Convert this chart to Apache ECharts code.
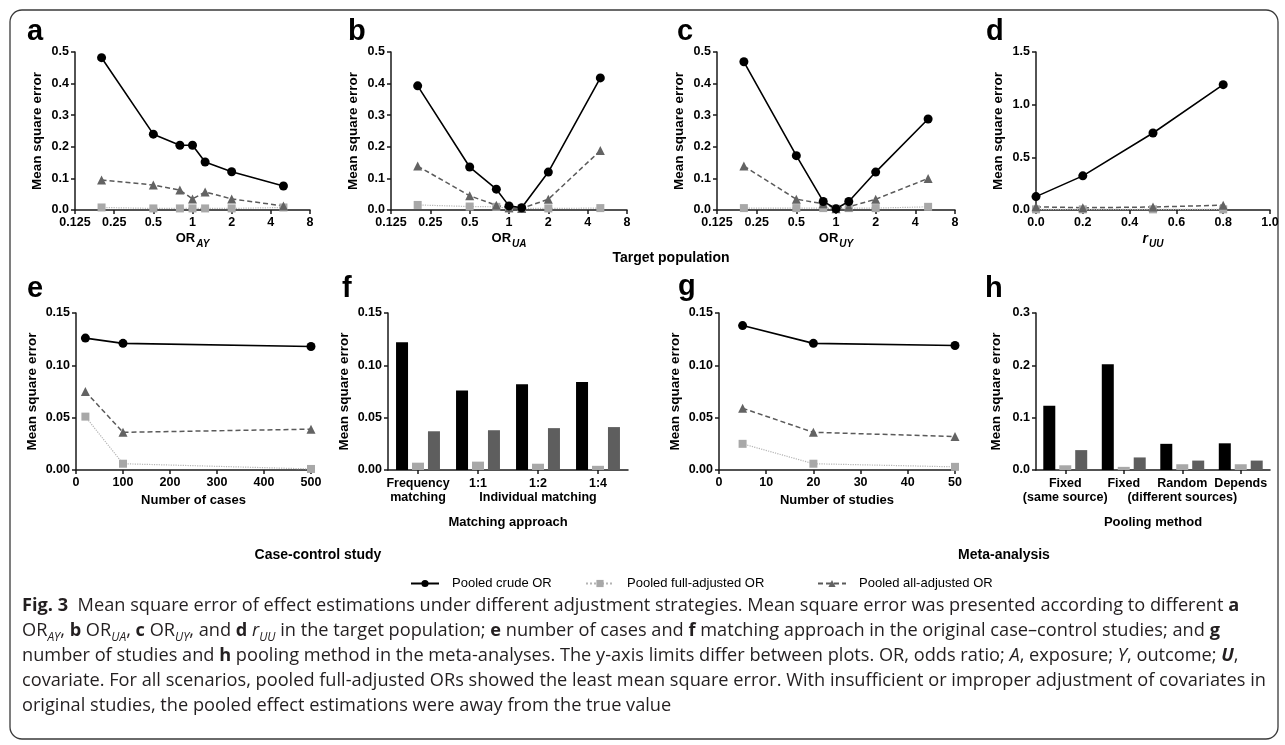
<!DOCTYPE html>
<html lang="en">
<head>
<meta charset="UTF-8">
<title>Mean square error of effect estimations</title>
<script src="https://cdn.jsdelivr.net/npm/echarts@6/dist/echarts.min.js"></script>
<style>
  body { margin: 0; background: #fff; }
  #wrap { position: relative; width: 1285px; height: 745px; }
  #box { width: 1285px; height: 745px; }
  #cap {
    position: absolute; left: 22px; top: 592px;
    font-family: "Open Sans", "Noto Sans", sans-serif; font-size: 18.2px;
    line-height: 25px; color: #231f20; white-space: nowrap;
  }
  #cap sub { font-size: 12px; line-height: 0; }
</style>
</head>
<body>
<div id="wrap">
<div id="box"></div>
<div id="cap">
<b>Fig. 3</b>&nbsp; Mean square error of effect estimations under different adjustment strategies. Mean square error was presented according to different <b>a</b><br>
OR<sub><i>AY</i></sub>, <b>b</b> OR<sub><i>UA</i></sub>, <b>c</b> OR<sub><i>UY</i></sub>, and <b>d</b> <i>r</i><sub><i>UU</i></sub> in the target population; <b>e</b> number of cases and <b>f</b> matching approach in the original case–control studies; and <b>g</b><br>
number of studies and <b>h</b> pooling method in the meta-analyses. The y-axis limits differ between plots. OR, odds ratio; <i>A</i>, exposure; <i>Y</i>, outcome; <b><i>U</i></b>,<br>
covariate. For all scenarios, pooled full-adjusted ORs showed the least mean square error. With insufficient or improper adjustment of covariates in<br>
original studies, the pooled effect estimations were away from the true value
</div>
</div>
<script>
// x values
var orVals = [0.2, 0.5, 0.8, 1, 1.25, 2, 5];
var rVals = [0, 0.2, 0.5, 0.8];
var caseVals = [20, 100, 500];
var studyVals = [5, 20, 50];
var fCats = ['Frequency\nmatching', '1:1', '1:2\nIndividual matching', '1:4'];
var hCats = ['Fixed\n(same source)', 'Fixed', 'Random\n(different sources)', 'Depends'];

// a: OR_AY
var aCrude = [0.482, 0.240, 0.205, 0.205, 0.152, 0.121, 0.076];
var aFull  = [0.008, 0.005, 0.005, 0.005, 0.005, 0.005, 0.008];
var aAll   = [0.095, 0.079, 0.063, 0.035, 0.057, 0.035, 0.013];
// b: OR_UA
var bCrude = [0.393, 0.136, 0.066, 0.013, 0.007, 0.120, 0.418];
var bFull  = [0.016, 0.011, 0.010, 0.005, 0.005, 0.005, 0.006];
var bAll   = [0.139, 0.045, 0.015, 0.007, 0.005, 0.034, 0.188];
// c: OR_UY
var cCrude = [0.469, 0.172, 0.027, 0.004, 0.027, 0.120, 0.288];
var cFull  = [0.006, 0.006, 0.006, 0.004, 0.006, 0.006, 0.010];
var cAll   = [0.139, 0.034, 0.020, 0.004, 0.010, 0.034, 0.100];
// d: r_UU
var dCrude = [0.127, 0.324, 0.731, 1.19];
var dFull  = [0.006, 0.006, 0.006, 0.006];
var dAll   = [0.030, 0.022, 0.028, 0.046];
// e: number of cases
var eCrude = [0.126, 0.121, 0.118];
var eFull  = [0.051, 0.006, 0.001];
var eAll   = [0.075, 0.036, 0.039];
// g: number of studies
var gCrude = [0.138, 0.121, 0.119];
var gFull  = [0.025, 0.006, 0.003];
var gAll   = [0.059, 0.036, 0.032];
// f: matching approach (bars)
var fCrude = [0.122, 0.076, 0.082, 0.084];
var fFull  = [0.007, 0.008, 0.006, 0.004];
var fAll   = [0.037, 0.038, 0.040, 0.041];
// h: pooling method (bars)
var hCrude = [0.123, 0.202, 0.050, 0.051];
var hFull  = [0.009, 0.006, 0.011, 0.011];
var hAll   = [0.038, 0.024, 0.018, 0.018];

var names = ['Pooled crude OR', 'Pooled full-adjusted OR', 'Pooled all-adjusted OR'];
var FONT = '"Liberation Sans", Arial, sans-serif';
var AX = '#1a1a1a';

// panel boxes: left, top, width, height
var grids = [
  {left: 75, top: 52, width: 235, height: 158},
  {left: 391, top: 52, width: 236, height: 158},
  {left: 717, top: 52, width: 238, height: 158},
  {left: 1036, top: 52, width: 234, height: 158},
  {left: 76, top: 313, width: 235, height: 157},
  {left: 388, top: 313, width: 240, height: 157},
  {left: 719, top: 313, width: 236, height: 157},
  {left: 1036, top: 313, width: 234, height: 157}
];

var subRich = {
  n: {fontFamily: FONT, fontWeight: 'bold', fontSize: 13, color: '#000', verticalAlign: 'top', lineHeight: 15},
  s: {fontFamily: FONT, fontWeight: 'bold', fontStyle: 'italic', fontSize: 10, color: '#000', verticalAlign: 'top', lineHeight: 11, padding: [7, 0, 0, 1]},
  r: {fontFamily: FONT, fontStyle: 'italic', fontSize: 14, color: '#000', verticalAlign: 'top', lineHeight: 15},
  u: {fontFamily: FONT, fontStyle: 'italic', fontSize: 10, color: '#000', verticalAlign: 'top', lineHeight: 11, padding: [7, 0, 0, 1]}
};

function baseAxis(idx) {
  return {
    gridIndex: idx,
    axisLine: {show: true, onZero: false, lineStyle: {color: AX, width: 1.5}},
    axisTick: {show: true, length: 4, lineStyle: {color: AX, width: 1.5}},
    splitLine: {show: false},
    axisLabel: {fontFamily: FONT, fontWeight: 'bold', fontSize: 12.5, color: '#000', margin: 6},
    nameLocation: 'middle',
    nameTextStyle: {fontFamily: FONT, fontWeight: 'bold', fontSize: 13, color: '#000'}
  };
}

function yAx(idx, max, step, dec, gap) {
  var ax = baseAxis(idx);
  ax.type = 'value';
  ax.min = 0; ax.max = max; ax.interval = step;
  ax.axisLabel.formatter = function (v) { return v.toFixed(dec); };
  ax.name = 'Mean square error';
  ax.nameGap = gap;
  ax.nameTextStyle.fontSize = 13.5;
  return ax;
}

function logX(idx, name) {
  var ax = baseAxis(idx);
  ax.type = 'log'; ax.logBase = 2; ax.min = 0.125; ax.max = 8; ax.interval = 1;
  ax.axisLabel.formatter = function (v) { return String(+(+v).toPrecision(4)); };
  ax.name = name; ax.nameGap = 22;
  ax.nameTextStyle.rich = subRich;
  return ax;
}

function valX(idx, max, step, dec, name, gap) {
  var ax = baseAxis(idx);
  ax.type = 'value'; ax.min = 0; ax.max = max; ax.interval = step;
  ax.axisLabel.formatter = function (v) { return v.toFixed(dec); };
  ax.name = name; ax.nameGap = gap;
  ax.nameTextStyle.rich = subRich;
  return ax;
}

function catX(idx, cats, name) {
  var ax = baseAxis(idx);
  ax.type = 'category'; ax.data = cats;
  ax.axisTick.alignWithLabel = true;
  ax.axisLabel.interval = 0;
  ax.axisLabel.lineHeight = 14;
  ax.axisLabel.margin = 7;
  ax.name = name; ax.nameGap = 46;
  return ax;
}

function lines(idx, xs, crude, full, all) {
  function pts(arr) { return xs.map(function (x, i) { return [x, arr[i]]; }); }
  return [
    {name: names[1], type: 'line', xAxisIndex: idx, yAxisIndex: idx, data: pts(full),
     symbol: 'rect', symbolSize: 8, clip: false, itemStyle: {color: '#a8a8a8'},
     lineStyle: {color: '#b4b4b4', width: 1.2, type: 'dotted'}},
    {name: names[2], type: 'line', xAxisIndex: idx, yAxisIndex: idx, data: pts(all),
     symbol: 'triangle', symbolSize: 9, clip: false, itemStyle: {color: '#636363'},
     lineStyle: {color: '#5a5a5a', width: 1.5, type: [5, 3]}},
    {name: names[0], type: 'line', xAxisIndex: idx, yAxisIndex: idx, data: pts(crude),
     symbol: 'circle', symbolSize: 9, clip: false, itemStyle: {color: '#000'},
     lineStyle: {color: '#000', width: 1.6}}
  ];
}

function bars(idx, crude, full, all) {
  var cols = ['#000', '#a8a8a8', '#5e5e5e'];
  return [crude, full, all].map(function (arr, k) {
    return {name: names[k], type: 'bar', xAxisIndex: idx, yAxisIndex: idx, data: arr,
      barWidth: 12, barGap: '33%', itemStyle: {color: cols[k]}};
  });
}

var series = [].concat(
  lines(0, orVals, aCrude, aFull, aAll),
  lines(1, orVals, bCrude, bFull, bAll),
  lines(2, orVals, cCrude, cFull, cAll),
  lines(3, rVals, dCrude, dFull, dAll),
  lines(4, caseVals, eCrude, eFull, eAll),
  lines(6, studyVals, gCrude, gFull, gAll),
  bars(5, fCrude, fFull, fAll),
  bars(7, hCrude, hFull, hAll)
);

var xAxes = [
  logX(0, '{n|OR}{s|AY}'),
  logX(1, '{n|OR}{s|UA}'),
  logX(2, '{n|OR}{s|UY}'),
  valX(3, 1.0, 0.2, 1, '{r|r}{u|UU}', 22),
  valX(4, 500, 100, 0, 'Number of cases', 24),
  catX(5, fCats, 'Matching approach'),
  valX(6, 50, 10, 0, 'Number of studies', 24),
  catX(7, hCats, 'Pooling method')
];

var yAxes = [
  yAx(0, 0.5, 0.1, 1, 31),
  yAx(1, 0.5, 0.1, 1, 31),
  yAx(2, 0.5, 0.1, 1, 31),
  yAx(3, 1.5, 0.5, 1, 31),
  yAx(4, 0.15, 0.05, 2, 37),
  yAx(5, 0.15, 0.05, 2, 37),
  yAx(6, 0.15, 0.05, 2, 37),
  yAx(7, 0.3, 0.1, 1, 33)
];

// panel letters and section headings
var letters = [
  ['a', 27, 33], ['b', 348, 33], ['c', 677, 33], ['d', 986, 33],
  ['e', 27, 290], ['f', 342, 290], ['g', 678, 288], ['h', 985, 290]
];
var graphics = letters.map(function (l) {
  return {type: 'text', left: l[1], top: l[2] - 16,
    style: {text: l[0], fontFamily: FONT, fontWeight: 'bold', fontSize: 29, fill: '#000'}};
});
var heads = [['Target population', 671, 258], ['Case-control study', 318, 555], ['Meta-analysis', 1004, 555]];
heads.forEach(function (h) {
  graphics.push({type: 'text', x: h[1], y: h[2],
    style: {text: h[0], fontFamily: FONT, fontWeight: 'bold', fontSize: 14, fill: '#000',
      align: 'center', verticalAlign: 'middle'}});
});
graphics.push({type: 'rect', shape: {x: 10, y: 10, width: 1268, height: 729, r: 12},
  style: {fill: 'none', stroke: '#3a3a3a', lineWidth: 1.3}, z: -1});

function leg(name, left) {
  return {data: [name], left: left, top: 572, itemWidth: 28, itemHeight: 9,
    selectedMode: false,
    textStyle: {fontFamily: FONT, fontSize: 13, color: '#000', padding: [0, 0, 0, 8]}};
}

var mychart = echarts.init(document.getElementById('box'));
mychart.setOption({
  animation: false,
  grid: grids,
  xAxis: xAxes,
  yAxis: yAxes,
  legend: [leg(names[0], 405), leg(names[1], 580), leg(names[2], 812)],
  graphic: graphics,
  series: series
});
</script>
</body>
</html>
